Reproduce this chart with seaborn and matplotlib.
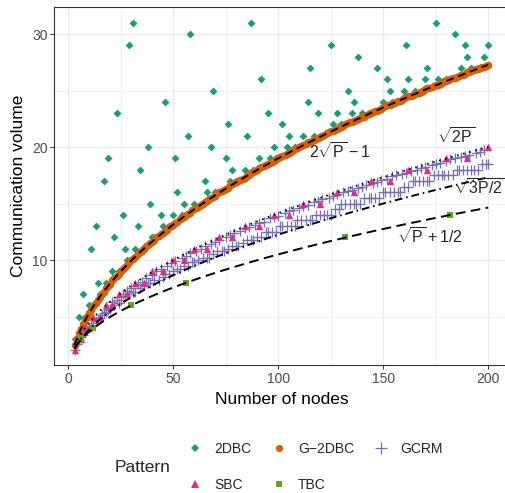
import numpy as np
import pandas as pd
import matplotlib
matplotlib.use("Agg")
import matplotlib.pyplot as plt
import seaborn as sns
from matplotlib.lines import Line2D
from matplotlib.ticker import MultipleLocator

# =========================
# DATA
# =========================
nodes = list(range(3, 201))

g2dbc_volume = [
    2.5, 3.0, 3.5, 3.9, 4.3, 4.7, 5.0, 5.3, 5.6, 5.9, 6.2, 6.5, 6.7, 7.0, 7.2, 7.5, 7.7, 7.9,
    8.2, 8.4, 8.6, 8.8, 9.0, 9.2, 9.4, 9.6, 9.8, 10.0,
    10.1, 10.3, 10.5, 10.7, 10.8, 11.0, 11.2, 11.3, 11.5, 11.6,
    11.8, 12.0, 12.1, 12.3, 12.4, 12.6, 12.7, 12.9, 13.0, 13.1,
    13.3, 13.4, 13.6, 13.7, 13.8, 14.0, 14.1, 14.2, 14.4, 14.5,
    14.6, 14.7, 14.9, 15.0, 15.1, 15.2, 15.4, 15.5, 15.6, 15.7,
    15.9, 16.0, 16.1, 16.2, 16.3, 16.4, 16.6, 16.7, 16.8, 16.9,
    17.0, 17.1, 17.2, 17.3, 17.4, 17.5, 17.7, 17.8, 17.9, 18.0,
    18.1, 18.2, 18.3, 18.4, 18.5, 18.6, 18.7, 18.8, 18.9, 19.0,
    19.1, 19.2, 19.3, 19.4, 19.5, 19.6, 19.7, 19.8, 19.9, 20.0,
    20.1, 20.2, 20.3, 20.4, 20.4, 20.5, 20.6, 20.7, 20.8, 20.9,
    21.0, 21.1, 21.2, 21.3, 21.4, 21.4, 21.5, 21.6, 21.7, 21.8,
    21.9, 22.0, 22.1, 22.2, 22.2, 22.3, 22.4, 22.5, 22.6, 22.7,
    22.7, 22.8, 22.9, 23.0, 23.1, 23.2, 23.2, 23.3, 23.4, 23.5,
    23.6, 23.7, 23.7, 23.8, 23.9, 24.0, 24.1, 24.1, 24.2, 24.3,
    24.4, 24.5, 24.5, 24.6, 24.7, 24.8, 24.8, 24.9, 25.0, 25.1,
    25.2, 25.2, 25.3, 25.4, 25.5, 25.5, 25.6, 25.7, 25.8, 25.8,
    25.9, 26.0, 26.1, 26.1, 26.2, 26.3, 26.4, 26.4, 26.5, 26.6,
    26.6, 26.7, 26.8, 26.9, 26.9, 27.0, 27.1, 27.1, 27.2, 27.3,
]

gcrm_volume = [
    2.0, 2.6, 2.9, 3.2, 3.4, 3.7, 3.8, 4.0, 4.2, 4.4, 4.6, 4.8, 4.9, 5.1, 5.3, 5.4, 5.6, 5.7,
    6.3, 6.0, 6.5, 6.2, 6.5, 7.0, 6.8, 7.3, 7.0, 7.5,
    7.2, 7.2, 7.9, 7.5, 8.1, 7.8, 8.4, 8.0, 8.0, 8.7,
    8.2, 9.0, 8.2, 9.2, 8.5, 8.8, 9.5, 8.8, 9.7, 9.0,
    9.9, 9.2, 9.2, 10.2, 9.5, 10.4, 9.5, 10.6, 9.8, 9.8,
    10.8, 10.0, 11.0, 10.2, 11.2, 10.2, 10.2, 11.4, 10.5, 11.6,
    10.8, 11.8, 10.8, 10.8, 12.0, 11.0, 12.2, 11.2, 12.4, 11.2,
    11.2, 12.6, 11.5, 12.8, 11.8, 12.9, 11.8, 11.8, 13.1, 12.0,
    13.3, 12.0, 13.4, 12.5, 12.5, 13.7, 12.5, 13.8, 12.5, 13.9,
    13.0, 13.0, 14.2, 13.0, 14.3, 13.0, 14.4, 13.0, 13.5, 14.6,
    13.5, 14.8, 13.5, 14.9, 13.5, 13.5, 15.1, 14.0, 15.2, 14.0,
    15.4, 14.0, 14.0, 15.5, 14.0, 15.7, 14.5, 15.8, 14.5, 15.0,
    16.0, 15.0, 16.1, 15.0, 16.2, 15.0, 15.0, 16.4, 15.0, 16.5,
    15.5, 16.6, 15.5, 15.5, 16.8, 15.5, 16.9, 15.5, 17.1, 16.0,
    16.0, 17.2, 16.0, 17.4, 16.0, 17.5, 16.0, 16.0, 17.6, 16.5,
    17.7, 16.5, 17.9, 17.0, 17.0, 18.0, 17.0, 18.1, 17.0, 18.2,
    17.0, 17.0, 18.4, 17.5, 18.5, 17.5, 18.6, 17.5, 17.5, 18.8,
    17.5, 18.9, 17.5, 19.0, 18.0, 18.0, 19.1, 18.0, 19.2, 18.0,
    19.3, 18.0, 18.0, 19.5, 18.0, 19.6, 18.5, 19.7, 18.5, 18.5,
]

dbc_nodes = [
    3, 4, 5, 6, 7, 8, 9, 10, 11, 12, 13, 14, 15, 16, 17, 18, 19, 20, 21, 22, 23, 24, 25,
    26, 27, 28, 29, 30, 31, 32, 33, 34, 35, 36, 38, 39, 40, 42, 44, 45, 46, 48, 49, 50,
    51, 52, 54, 55, 56, 57, 58, 60, 63, 64, 65, 66, 68, 69, 70, 72, 75, 76, 77, 78, 80,
    81, 84, 85, 87, 88, 90, 91, 92, 95, 96, 98, 99, 100, 102, 104, 105, 108, 110, 112,
    114, 115, 117, 119, 120, 121, 125, 126, 128, 130, 132, 133, 135, 136, 138, 140, 143,
    144, 147, 150, 152, 153, 154, 156, 160, 161, 162, 165, 168, 169, 170, 171, 175, 176,
    180, 182, 184, 187, 189, 190, 192, 195, 196, 198, 200,
]
dbc_volume = [
    3, 3, 5, 4, 7, 5, 5, 6, 11, 6, 13, 8, 7, 7, 17, 8, 19, 8, 9, 12, 23, 9, 9,
    14, 11, 10, 29, 10, 31, 11, 13, 18, 11, 11, 20, 15, 12, 12, 14, 13, 24, 13, 13, 14,
    19, 16, 14, 15, 14, 21, 30, 15, 15, 15, 17, 16, 20, 25, 16, 16, 19, 22, 17, 18, 17,
    17, 18, 21, 31, 18, 18, 19, 26, 23, 19, 20, 19, 19, 22, 20, 21, 20, 20, 21,
    24, 27, 21, 23, 21, 21, 29, 22, 23, 22, 22, 25, 23, 24, 28, 23, 23,
    23, 27, 24, 26, 25, 24, 24, 25, 29, 26, 25, 25, 25, 26, 27, 31, 26,
    26, 26, 30, 27, 29, 28, 27, 27, 27, 28, 29,
]

sbc_nodes = [3, 4, 6, 8, 10, 12, 15, 18, 21, 24, 28, 32, 36, 40, 45, 50, 55, 60, 66, 72,
             78, 84, 91, 98, 105, 112, 120, 128, 136, 144, 153, 162, 171, 180, 190, 200]
sbc_volume = [2, 3, 3, 4, 4, 5, 5, 6, 6, 7, 7, 8, 8, 9, 9, 10, 10, 11, 11, 12,
              12, 13, 13, 14, 14, 15, 15, 16, 16, 17, 17, 18, 18, 19, 19, 20]

tbc_nodes = [6, 12, 30, 56, 132, 182]
tbc_volume = [3, 4, 6, 8, 12, 14]

patterns = ["2DBC", "G\u22122DBC", "GCRM", "SBC", "TBC"]
colors = {"2DBC": "#1B9E77", "G\u22122DBC": "#D95F02", "GCRM": "#7570B3",
          "SBC": "#E7298A", "TBC": "#66A61E"}
markers = {"2DBC": "D", "G\u22122DBC": "o", "GCRM": "+", "SBC": "^", "TBC": "s"}
sizes = {"2DBC": 16, "G\u22122DBC": 30, "GCRM": 44, "SBC": 28, "TBC": 18}

df = pd.concat([
    pd.DataFrame({"nodes": dbc_nodes, "volume": dbc_volume, "Pattern": "2DBC"}),
    pd.DataFrame({"nodes": nodes, "volume": g2dbc_volume, "Pattern": "G\u22122DBC"}),
    pd.DataFrame({"nodes": nodes, "volume": gcrm_volume, "Pattern": "GCRM"}),
    pd.DataFrame({"nodes": sbc_nodes, "volume": sbc_volume, "Pattern": "SBC"}),
    pd.DataFrame({"nodes": tbc_nodes, "volume": tbc_volume, "Pattern": "TBC"}),
], ignore_index=True)

# theoretical curves shown with their formulas
curve_nodes = np.linspace(3, 200, 300)

# =========================
# STYLE
# =========================
sns.set_theme(style="white")
plt.rcParams["font.family"] = ["Liberation Sans", "DejaVu Sans"]
plt.rcParams["mathtext.fontset"] = "custom"
plt.rcParams["mathtext.rm"] = "Liberation Sans"
plt.rcParams["mathtext.it"] = "Liberation Sans:italic"
plt.rcParams["mathtext.bf"] = "Liberation Sans:bold"

fig = plt.figure(figsize=(5.06, 4.93), dpi=100)
ax = fig.add_axes([0.1077, 0.2596, 0.8982, 0.7262])

# =========================
# POINTS
# =========================
for p in patterns:
    sub = df[df["Pattern"] == p]
    extra = {"linewidth": 0.9} if markers[p] == "+" else {"linewidth": 0}
    sns.scatterplot(data=sub, x="nodes", y="volume", marker=markers[p], s=sizes[p],
                    color=colors[p], ax=ax, legend=False, zorder=3, **extra)

# =========================
# CURVES
# =========================
ax.plot(curve_nodes, 2 * np.sqrt(curve_nodes) - 1, color="black", lw=1.4,
        dashes=(4, 2.5), zorder=4)
ax.plot(curve_nodes, np.sqrt(2 * curve_nodes), color="black", lw=1.4,
        dashes=(0.8, 2.4), zorder=4)
ax.plot(curve_nodes, np.sqrt(1.5 * curve_nodes), color="black", lw=1.4,
        dashes=(4, 2, 0.8, 2), zorder=4)
ax.plot(curve_nodes, np.sqrt(curve_nodes) + 0.5, color="black", lw=1.4,
        dashes=(5, 2.8), zorder=4)

ax.text(129.4, 19.6, r"$2\sqrt{\mathrm{P}}-1$", ha="center", va="center", fontsize=11.5, zorder=5)
ax.text(185, 20.9, r"$\sqrt{2\mathrm{P}}$", ha="center", va="center", fontsize=11.5, zorder=5)
ax.text(183.8, 16.4, r"$\sqrt{3\mathrm{P}/2}$", ha="left", va="center", fontsize=11.5, zorder=5)
ax.text(172, 12.0, r"$\sqrt{\mathrm{P}}+1/2$", ha="center", va="center", fontsize=11.5, zorder=5)

# =========================
# AXES
# =========================
ax.set_xlim(-6.57, 209.9)
ax.set_ylim(0.71, 32.39)
ax.xaxis.set_major_locator(MultipleLocator(50))
ax.xaxis.set_minor_locator(MultipleLocator(25))
ax.yaxis.set_major_locator(MultipleLocator(10))
ax.yaxis.set_minor_locator(MultipleLocator(5))
ax.grid(which="major", color="#EBEBEB", lw=1.0)
ax.grid(which="minor", color="#EBEBEB", lw=0.5)
ax.set_axisbelow(True)
ax.tick_params(which="major", length=3, width=0.7, color="#333333",
               labelcolor="#4D4D4D", labelsize=10, pad=2, left=True, bottom=True)
ax.tick_params(which="minor", length=0)
for s in ax.spines.values():
    s.set_color("#333333")
    s.set_linewidth(0.8)

ax.set_xlabel("Number of nodes", fontsize=12.5, color="black", labelpad=4)
ax.set_ylabel("Communication volume", fontsize=12.5, color="black", labelpad=4)

# =========================
# LEGEND
# =========================
order = ["2DBC", "SBC", "G\u22122DBC", "TBC", "GCRM"]
handles = []
for p in order:
    if markers[p] == "+":
        h = Line2D([], [], linestyle="none", marker="+", markersize=8,
                   markeredgewidth=0.9, color=colors[p])
    else:
        h = Line2D([], [], linestyle="none", marker=markers[p],
                   markersize=min(np.sqrt(sizes[p]), 5.2), markeredgewidth=0, color=colors[p])
    handles.append(h)

fig.legend(handles, order, loc="upper left", bbox_to_anchor=(0.3715, 0.104),
           ncol=3, frameon=False, fontsize=10, handlelength=1.0, handletextpad=0.9,
           columnspacing=1.45, labelspacing=1.6, borderpad=0, borderaxespad=0)
fig.text(115 / 506, 1 - 467 / 493, "Pattern", fontsize=12.5, ha="left", va="center")

fig.savefig("out.png", dpi=100)
